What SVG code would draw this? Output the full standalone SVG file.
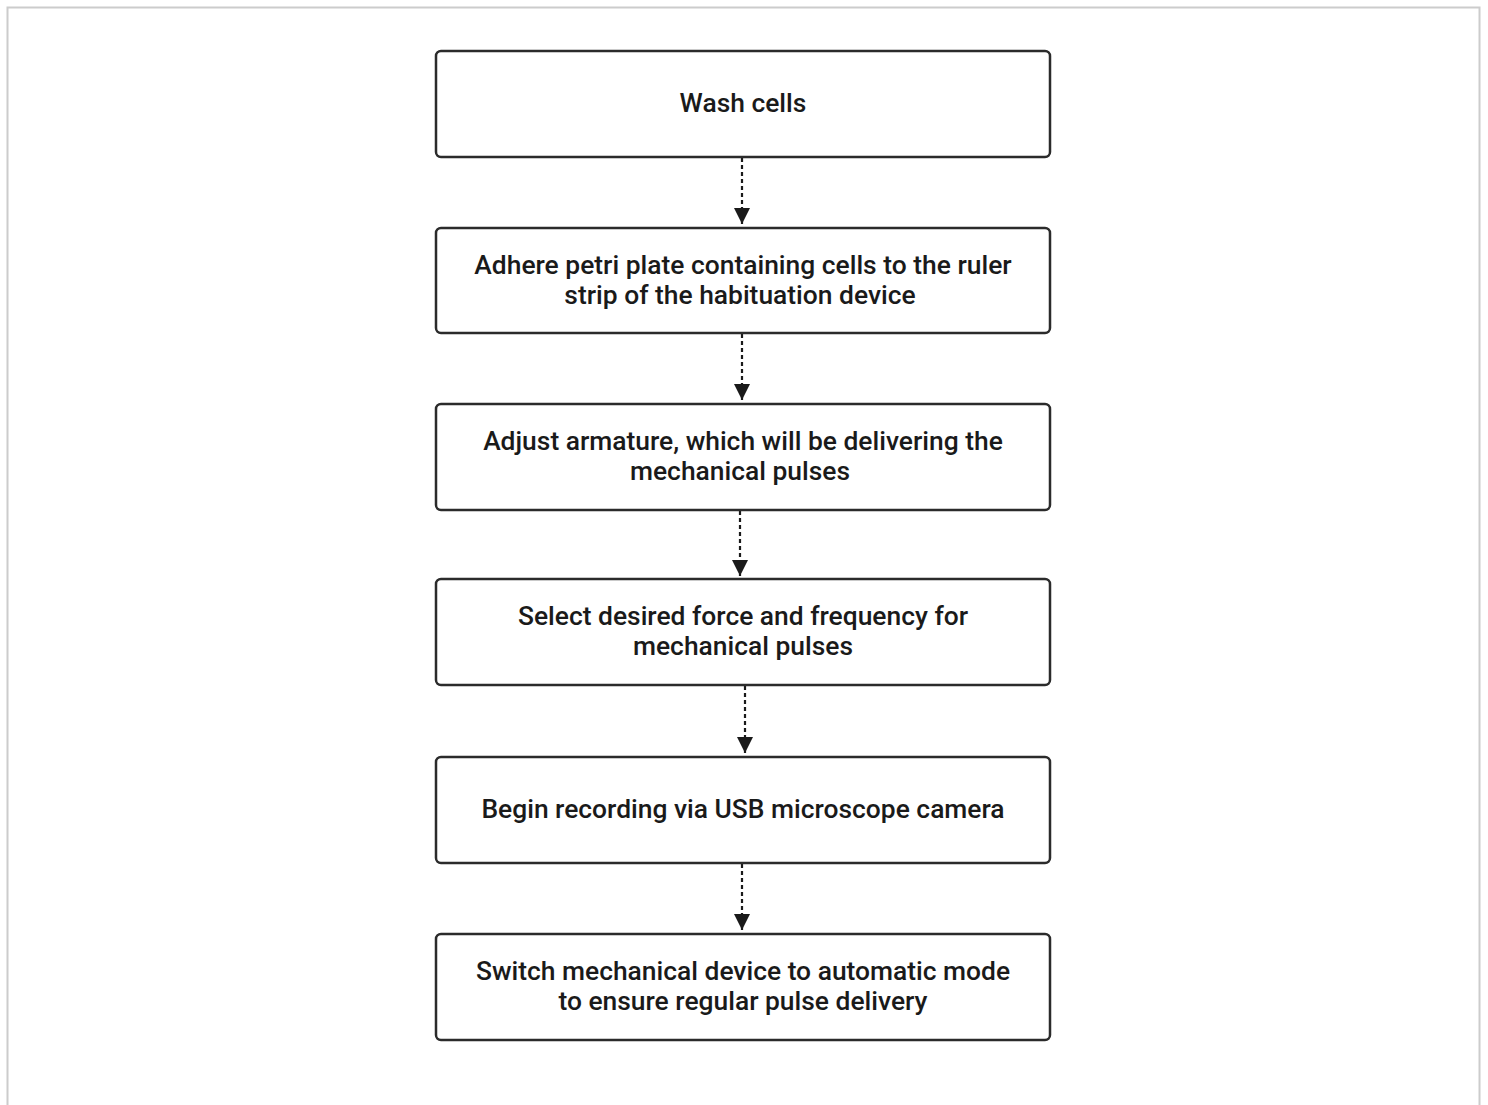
<svg xmlns="http://www.w3.org/2000/svg" width="1488" height="1105" viewBox="0 0 1488 1105">
<style>
.box{fill:#fff;stroke:#2b2b2b;stroke-width:2.5}
.t{font-family:Roboto,"Liberation Sans",sans-serif;font-size:26.4px;font-weight:500;fill:#1a1a1a;text-anchor:middle;dominant-baseline:central}
.c{stroke:#1a1a1a;stroke-width:2.2;stroke-dasharray:4 3;fill:none}
</style>
<defs>
<marker id="ah" viewBox="0 0 10 10" refX="10" refY="5" markerWidth="16" markerHeight="16" markerUnits="userSpaceOnUse" orient="auto">
<path d="M0,0 L10,5 L0,10 Z" fill="#1a1a1a"/>
</marker>
</defs>
<rect width="1488" height="1105" fill="#fff"/>
<rect x="7.5" y="7.5" width="1472" height="1120" fill="#fff" stroke="#cccccc" stroke-width="2"/>
<g id="connectors">
<line class="c" x1="742" y1="158" x2="742" y2="224" marker-end="url(#ah)"/>
<line class="c" x1="742" y1="334" x2="742" y2="400" marker-end="url(#ah)"/>
<line class="c" x1="740" y1="511" x2="740" y2="576" marker-end="url(#ah)"/>
<line class="c" x1="745" y1="686" x2="745" y2="753" marker-end="url(#ah)"/>
<line class="c" x1="742" y1="864" x2="742" y2="930" marker-end="url(#ah)"/>
</g>
<g id="n1"><rect class="box" x="436" y="51" width="614" height="106" rx="5"/><text class="t" x="743" y="103">Wash cells</text></g>
<g id="n2"><rect class="box" x="436" y="228" width="614" height="105" rx="5"/><text class="t" x="743" y="265">Adhere petri plate containing cells to the ruler</text><text class="t" x="740" y="295">strip of the habituation device</text></g>
<g id="n3"><rect class="box" x="436" y="404" width="614" height="106" rx="5"/><text class="t" x="743" y="441">Adjust armature, which will be delivering the</text><text class="t" x="740" y="471">mechanical pulses</text></g>
<g id="n4"><rect class="box" x="436" y="579" width="614" height="106" rx="5"/><text class="t" x="743" y="616">Select desired force and frequency for</text><text class="t" x="743" y="646">mechanical pulses</text></g>
<g id="n5"><rect class="box" x="436" y="757" width="614" height="106" rx="5"/><text class="t" x="743" y="809">Begin recording via USB microscope camera</text></g>
<g id="n6"><rect class="box" x="436" y="934" width="614" height="106" rx="5"/><text class="t" x="743" y="971">Switch mechanical device to automatic mode</text><text class="t" x="743" y="1001">to ensure regular pulse delivery</text></g>
</svg>
